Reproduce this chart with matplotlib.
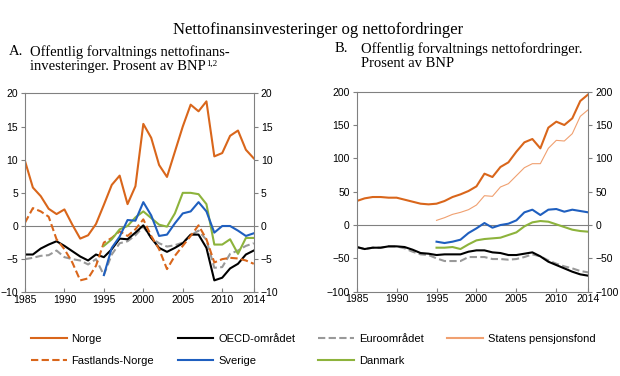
import numpy as np
import matplotlib.pyplot as plt
from matplotlib.lines import Line2D

# years
years = np.arange(1985, 2015)
years_short = np.arange(1995, 2015)

# panel A: nettofinansinvesteringer, prosent av BNP
a_norge = [9.8, 5.8, 4.5, 2.6, 1.8, 2.5, 0.2, -1.9, -1.4, 0.3,
           3.2, 6.2, 7.6, 3.3, 6.0, 15.4, 13.3, 9.2, 7.4, 11.2,
           15.0, 18.3, 17.3, 18.8, 10.5, 11.0, 13.6, 14.4, 11.5, 10.2]
a_fastland = [0.5, 2.7, 2.2, 1.4, -2.0, -3.5, -5.5, -8.2, -7.9, -6.0,
              -2.5, -1.8, -0.8, -1.5, -0.5, 1.0, -1.5, -3.5, -6.5, -4.5,
              -3.0, -1.5, 0.1, -2.0, -5.5, -5.0, -4.8, -4.9, -5.2, -5.7]
a_oecd = [-4.3, -4.3, -3.4, -2.8, -2.3, -3.0, -3.8, -4.6, -5.2, -4.3,
          -4.7, -3.5, -1.9, -2.0, -1.0, 0.1, -1.8, -3.3, -3.9, -3.3,
          -2.6, -1.3, -1.3, -3.3, -8.2, -7.8, -6.4, -5.7, -4.3, -3.7]
a_euro = [-5.0, -4.8, -4.5, -4.4, -3.7, -4.7, -5.0, -5.2, -5.8, -5.0,
          -7.4, -4.3, -2.6, -2.3, -1.4, -0.1, -1.8, -2.6, -3.1, -2.9,
          -2.5, -1.4, -0.7, -2.1, -6.3, -6.2, -4.2, -3.7, -3.0, -2.6]
a_sverige = [-7.4, -3.3, -1.6, 0.9, 0.8, 3.6, 1.6, -1.5, -1.3, 0.4,
             1.9, 2.2, 3.6, 2.2, -1.0, 0.0, 0.0, -0.7, -1.5, -1.1]
a_danmark = [-3.0, -2.0, -0.5, 0.0, 1.3, 2.2, 1.2, 0.2, -0.1, 1.9,
             5.0, 5.0, 4.8, 3.3, -2.8, -2.8, -2.0, -4.2, -1.8, -1.8]

# panel B: nettofordringer, prosent av BNP
b_norge = [36, 40, 42, 42, 41, 41, 38, 35, 32, 31,
           32, 36, 42, 46, 51, 58, 77, 72, 87, 94,
           110, 124, 129, 115, 146, 155, 150, 160, 186, 196]
b_spf = [7, 11, 16, 19, 23, 30, 44, 43, 57, 62,
         74, 86, 92, 92, 115, 127, 126, 137, 163, 173]
b_sverige = [-25, -27, -25, -22, -12, -5, 3, -4, 0, 2,
             7, 19, 23, 15, 23, 24, 20, 23, 21, 19]
b_danmark = [-34, -34, -33, -36, -29, -23, -21, -20, -19, -15,
             -11, -2, 4, 6, 5, 1, -3, -7, -9, -10]
b_oecd = [-33, -36, -34, -34, -32, -32, -33, -37, -42, -43,
          -45, -44, -44, -44, -40, -38, -38, -41, -42, -45,
          -45, -43, -41, -47, -55, -60, -65, -70, -74, -76]
b_euro = [-33, -36, -34, -34, -32, -32, -35, -40, -44, -45,
          -50, -54, -54, -54, -48, -48, -48, -51, -51, -52,
          -51, -48, -44, -47, -53, -58, -62, -65, -69, -71]

xticks = [1985, 1990, 1995, 2000, 2005, 2010, 2014]

c_norge = "#D9661B"
c_spf = "#F0A070"
c_blue = "#1F5FBF"
c_green = "#8DB33C"
c_grey = "#999999"
c_axis = "#808080"

plt.rcParams['font.family'] = 'Liberation Sans'

fig = plt.figure(figsize=(6.2, 3.76), dpi=100)
axA = fig.add_axes([0.0403, 0.2226, 0.369, 0.529])
axB = fig.add_axes([0.5753, 0.2242, 0.3735, 0.532])

dash = (0, (3.5, 1.6))

#---------------------------- panel A ----------------------------------------#
axA.axhline(0, color=c_axis, lw=0.8)
axA.plot(years, a_euro, color=c_grey, lw=1.5, ls=dash)
axA.plot(years, a_oecd, color="black", lw=1.5)
axA.plot(years, a_fastland, color=c_norge, lw=1.5, ls=dash)
axA.plot(years_short, a_danmark, color=c_green, lw=1.5)
axA.plot(years_short, a_sverige, color=c_blue, lw=1.5)
axA.plot(years, a_norge, color=c_norge, lw=1.5)
axA.set_ylim(-10, 20)
axA.set_yticks(range(-10, 21, 5))

#---------------------------- panel B ----------------------------------------#
axB.axhline(0, color=c_axis, lw=0.8)
axB.plot(years, b_euro, color=c_grey, lw=1.5, ls=dash)
axB.plot(years, b_oecd, color="black", lw=1.5)
axB.plot(years_short, b_danmark, color=c_green, lw=1.5)
axB.plot(years_short, b_sverige, color=c_blue, lw=1.5)
axB.plot(years_short, b_spf, color=c_spf, lw=0.8)
axB.plot(years, b_norge, color=c_norge, lw=1.5)
axB.set_ylim(-100, 200)
axB.set_yticks(range(-100, 201, 50))

for ax in (axA, axB):
    ax.set_xlim(1985, 2014)
    ax.set_xticks(xticks)
    for s in ax.spines.values():
        s.set_color(c_axis)
        s.set_linewidth(0.8)
    ax.tick_params(axis='y', direction='out', length=3, color=c_axis,
                   left=True, right=True, labelleft=True, labelright=True,
                   labelsize=7.5, pad=2)
    ax.tick_params(axis='x', direction='in', length=3, color=c_axis,
                   labelsize=7.5, pad=2)

#---------------------------- titles -----------------------------------------#
serif = 'Liberation Serif'
fig.text(0.513, 0.92, "Nettofinansinvesteringer og nettofordringer",
         family=serif, fontsize=12, ha='center', va='center')
fig.text(0.015, 0.862, "A.", family=serif, fontsize=10.5, va='center')
fig.text(0.048, 0.862, "Offentlig forvaltnings nettofinans-",
         family=serif, fontsize=10.5, va='center')
sub2 = fig.text(0.048, 0.822, "investeringer. Prosent av BNP",
                family=serif, fontsize=10.5, va='center')
fig.text(0.539, 0.870, "B.", family=serif, fontsize=10.5, va='center')
fig.text(0.582, 0.870, "Offentlig forvaltnings nettofordringer.",
         family=serif, fontsize=10.5, va='center')
fig.text(0.582, 0.832, "Prosent av BNP",
         family=serif, fontsize=10.5, va='center')

# superscript placed right after the second line of subtitle A
renderer = fig.canvas.get_renderer()
bb = sub2.get_window_extent(renderer).transformed(fig.transFigure.inverted())
fig.text(bb.x1 + 0.0005, 0.829, "1,2", family=serif, fontsize=6.5, va='center')

#---------------------------- legend -----------------------------------------#
handles = [
    Line2D([], [], color=c_norge, lw=1.5),
    Line2D([], [], color=c_norge, lw=1.5, ls=dash),
    Line2D([], [], color="black", lw=1.5),
    Line2D([], [], color=c_blue, lw=1.5),
    Line2D([], [], color=c_grey, lw=1.5, ls=dash),
    Line2D([], [], color=c_green, lw=1.5),
    Line2D([], [], color=c_spf, lw=1.5),
]
labels = ["Norge", "Fastlands-Norge", "OECD-området", "Sverige",
          "Euroområdet", "Danmark", "Statens pensjonsfond"]
fig.legend(handles, labels, ncol=4, loc='upper left',
           bbox_to_anchor=(0.05, 0.112), frameon=False, fontsize=8,
           handlelength=3.2, handletextpad=0.45, columnspacing=2.1,
           labelspacing=1.05, borderaxespad=0, borderpad=0)

fig.savefig("out.png", dpi=100)
